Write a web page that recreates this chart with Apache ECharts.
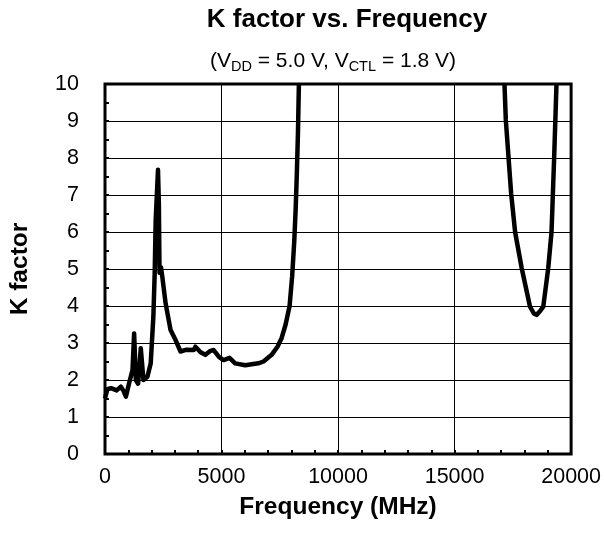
<!DOCTYPE html>
<html>
<head>
<meta charset="utf-8">
<script src="https://cdn.jsdelivr.net/npm/echarts@6/dist/echarts.min.js"></script>
<style>
html,body{margin:0;padding:0;background:#fff;}
#chart{width:604px;height:533px;}
</style>
</head>
<body>
<div id="chart"></div>
<script>
// Frequency (MHz), null breaks the curve where it leaves the plot
var freq = [0, 100, 256, 500, 682, 800, 896, 1037, 1180, 1250, 1322, 1421, 1535, 1650, 1820, 1961, 2075, 2132, 2175, 2274, 2310, 2340, 2400, 2459, 2601, 2814, 3028, 3241, 3312, 3500, 3808, 3880, 4100, 4307, 4500, 4662, 4900, 5088, 5344, 5586, 6012, 6581, 6800, 7150, 7400, 7577, 7750, 7920, 8030, 8120, 8180, 8230, 8280, 8320, null, 17141, 17198, 17426, 17597, 17881, 18237, 18400, 18519, 18650, 18805, 19018, 19160, 19274, 19373];
var kFactor = [1.5, 1.75, 1.78, 1.72, 1.82, 1.7, 1.55, 1.92, 2.27, 3.26, 2.0, 1.9, 2.86, 2.0, 2.09, 2.45, 3.71, 4.88, 6.32, 7.68, 6.8, 4.9, 5.05, 4.79, 4.07, 3.35, 3.08, 2.77, 2.77, 2.82, 2.81, 2.9, 2.75, 2.68, 2.78, 2.81, 2.62, 2.54, 2.6, 2.45, 2.4, 2.45, 2.5, 2.68, 2.9, 3.13, 3.5, 4.0, 4.8, 5.74, 6.6, 7.54, 8.7, 10, null, 10, 9.03, 7.05, 6.0, 5.02, 3.98, 3.8, 3.76, 3.85, 3.98, 5.02, 6.0, 8.04, 10];
var xTicks = [0, 5000, 10000, 15000, 20000];
var yTicks = [0, 1, 2, 3, 4, 5, 6, 7, 8, 9, 10];
var titleText = 'K factor vs. Frequency';
var subtitleText = '(V{s|DD} = 5.0 V, V{s|CTL} = 1.8 V)';
var xName = 'Frequency (MHz)';
var yName = 'K factor';

var data = freq.map(function (f, i) { return f === null ? [null, null] : [f, kFactor[i]]; });
var font = 'Liberation Sans, Arial, sans-serif';
var chart = echarts.init(document.getElementById('chart'), null, {renderer: 'canvas'});
chart.setOption({
  backgroundColor: '#fff',
  animation: false,
  graphic: [
    {type: 'text', x: 347, y: 20, style: {text: titleText, fontFamily: font, fontSize: 26, fontWeight: 'bold', fill: '#000', textAlign: 'center', textVerticalAlign: 'middle'}},
    {type: 'text', x: 333, y: 61, style: {text: subtitleText, fontFamily: font, fontSize: 21, fill: '#000', textAlign: 'center', textVerticalAlign: 'middle',
      rich: {s: {fontFamily: font, fontSize: 14.5, fill: '#000', padding: [11, 0, 0, 0]}}}}
  ],
  grid: {left: 104, right: 31, top: 84, bottom: 79, show: true, borderColor: '#000', borderWidth: 3, backgroundColor: 'transparent'},
  xAxis: {
    type: 'value', min: xTicks[0], max: xTicks[xTicks.length - 1], interval: xTicks[1] - xTicks[0],
    name: xName, nameLocation: 'middle', nameGap: 41,
    nameTextStyle: {fontFamily: font, fontSize: 24.5, fontWeight: 'bold', color: '#000'},
    axisLine: {show: false},
    axisTick: {show: true, inside: true, length: 4, lineStyle: {color: '#000', width: 2}},
    minorTick: {show: true, splitNumber: 5, length: 4, lineStyle: {color: '#000', width: 2}},
    axisLabel: {fontFamily: font, fontSize: 21.5, color: '#000', margin: 12, formatter: function (v) { return String(v); }},
    splitLine: {show: true, lineStyle: {color: '#000', width: 1}}
  },
  yAxis: {
    type: 'value', min: yTicks[0], max: yTicks[yTicks.length - 1], interval: yTicks[1] - yTicks[0],
    name: yName, nameLocation: 'middle', nameGap: 72,
    nameTextStyle: {fontFamily: font, fontSize: 24.5, fontWeight: 'bold', color: '#000'},
    axisLine: {show: false},
    axisTick: {show: true, inside: true, length: 4, lineStyle: {color: '#000', width: 2}},
    minorTick: {show: true, splitNumber: 2, length: 4, lineStyle: {color: '#000', width: 2}},
    axisLabel: {fontFamily: font, fontSize: 21.5, color: '#000', margin: 26},
    splitLine: {show: true, lineStyle: {color: '#000', width: 1}}
  },
  series: [{
    type: 'line', data: data, showSymbol: false, symbol: 'none', connectNulls: false, clip: true,
    lineStyle: {color: '#000', width: 4.5, join: 'round'}
  }]
});
</script>
</body>
</html>
